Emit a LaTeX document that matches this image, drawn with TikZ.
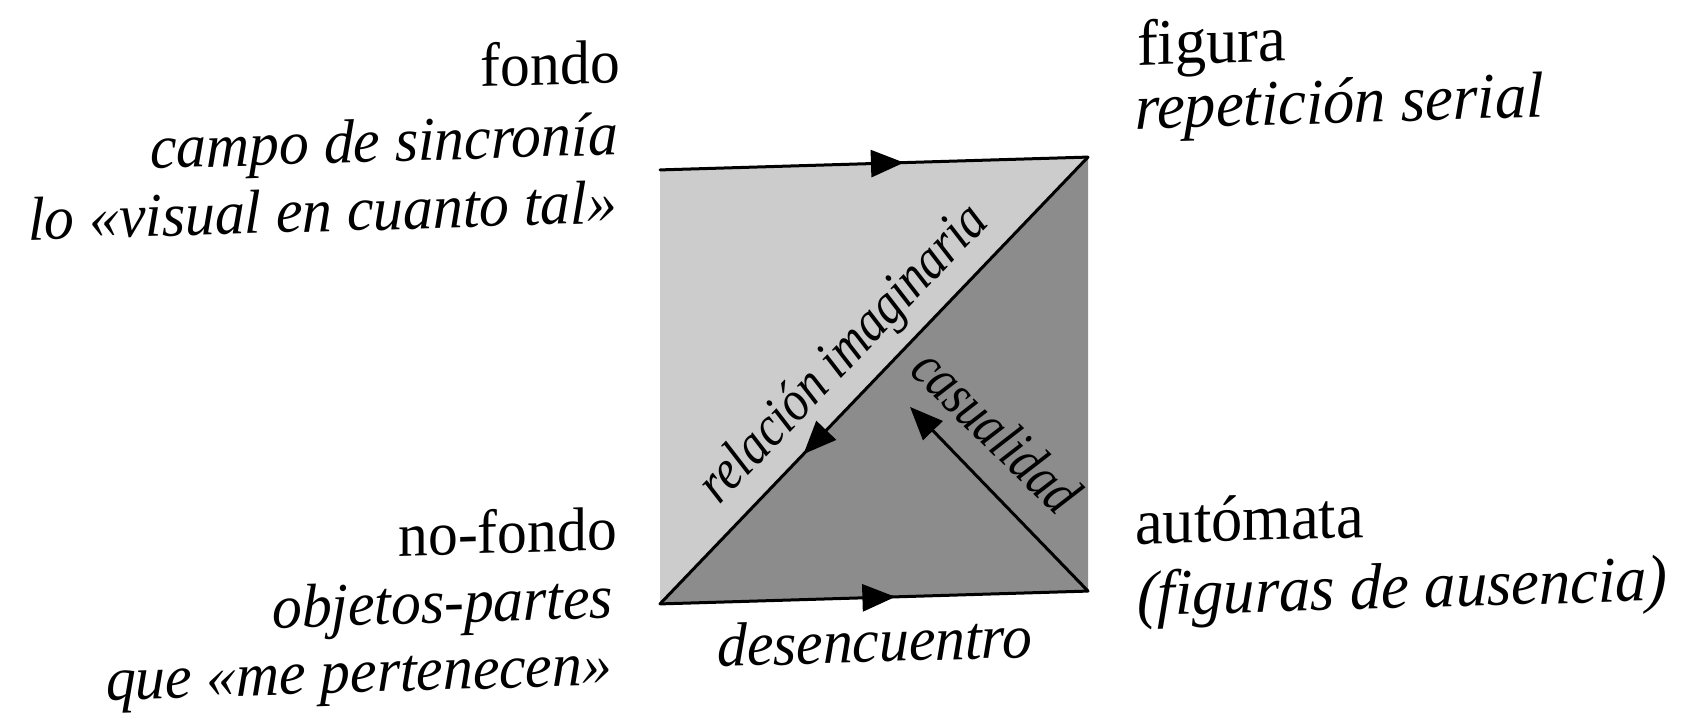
\documentclass[tikz,border=0pt]{standalone}
\usepackage{fontspec}
\setmainfont{Liberation Serif}
\usetikzlibrary{arrows.meta,decorations.markings}
\newcommand{\narrowtxt}[1]{\scalebox{0.96}[1]{#1}}
\newcommand{\condtxt}[1]{\scalebox{0.83}[1]{#1}}
\begin{document}
\begin{tikzpicture}[x=1pt,y=-1pt,
  lbl/.style={inner sep=0pt, transform shape, font=\fontsize{62}{72}\selectfont},
  ital/.style={inner sep=0pt, transform shape, font=\fontsize{62}{72}\selectfont\itshape},
  rlbl/.style={inner sep=0pt, transform shape, font=\fontsize{65}{75}\selectfont},
  rital/.style={inner sep=0pt, transform shape, font=\fontsize{65}{75}\selectfont\itshape},
  smallital/.style={inner sep=0pt, transform shape, font=\fontsize{58}{68}\selectfont\itshape},
  edgeline/.style={line width=3pt, line join=round, line cap=round},
  midarrow/.style={postaction={decorate,decoration={markings,mark=at position #1 with {\arrow{Triangle[length=33pt,width=27pt]}}}}}
]
\useasboundingbox (0,0) rectangle (1692,717);
\begin{scope}[cm={1,0.03,0,1,(0pt,-26.22pt)}]
\coordinate (TL) at (660,163.5);
\coordinate (TR) at (1088,163.5);
\coordinate (BR) at (1088,597.5);
\coordinate (BL) at (660,597.5);
\coordinate (CT) at (910,408);
\fill[black!20] (TL) -- (TR) -- (BL) -- cycle;
\fill[black!45] (BL) -- (TR) -- (BR) -- cycle;
\draw[edgeline, midarrow=0.57] (TL) -- (TR);
\draw[edgeline, midarrow=0.55] (BL) -- (BR);
\draw[edgeline, midarrow=0.665] (TR) -- (BL);
\draw[edgeline, -{Triangle[length=33pt,width=27pt]}] (BR) -- (CT);
\node[smallital, rotate=45.4] (rel) at (845,354) {\condtxt{relación imaginaria}};
\node[smallital, rotate=-45] (cas) at (997,434) {\condtxt{casualidad}};
% left top
\node[lbl, anchor=base east] (fondo) at (620,75) {\narrowtxt{fondo}};
\node[ital, anchor=base east] (campo) at (618,147) {\narrowtxt{campo de sincronía}};
\node[ital, anchor=base east] (visual) at (617,215) {\narrowtxt{lo «visual en cuanto tal»}};
% left bottom
\node[lbl, anchor=base east] (nofondo) at (617,542) {\narrowtxt{no-fondo}};
\node[ital, anchor=base east] (objetos) at (613,610) {\narrowtxt{objetos-partes}};
\node[ital, anchor=base east] (queme) at (612,677) {\narrowtxt{que «me pertenecen»}};
% right top
\node[rlbl, anchor=base west] (figura) at (1137,73) {\narrowtxt{figura}};
\node[rital, anchor=base west] (repet) at (1135,137) {\narrowtxt{repetición serial}};
% right bottom
\node[rlbl, anchor=base west] (automata) at (1135,552) {\narrowtxt{autómata}};
\node[rital, anchor=base west] (ausencia) at (1137,624) {\narrowtxt{(figuras de ausencia)}};
% bottom
\node[ital, anchor=base] (desenc) at (875,662) {\narrowtxt{desencuentro}};
\end{scope}
\end{tikzpicture}
\end{document}
